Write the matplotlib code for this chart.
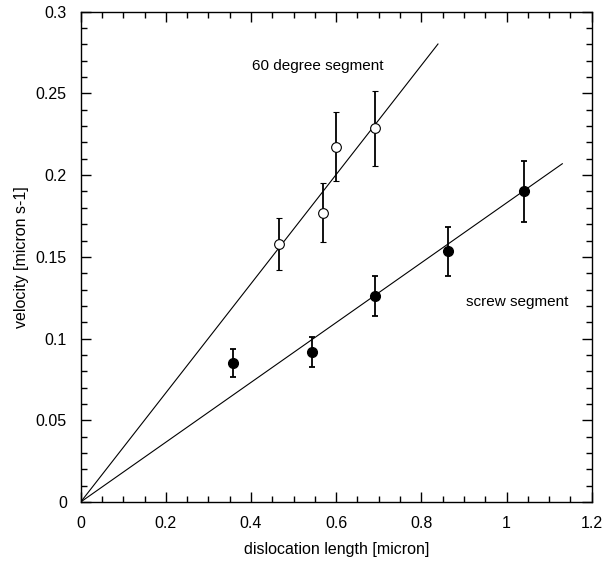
import matplotlib
matplotlib.use("Agg")
import matplotlib.pyplot as plt
import numpy as np
from matplotlib.ticker import MultipleLocator, FuncFormatter

plt.rcParams['font.family'] = ['Liberation Sans', 'DejaVu Sans']

# 60 degree segment (open circles)
deg60_x = [0.466, 0.570, 0.600, 0.691]
deg60_y = [0.158, 0.177, 0.2175, 0.2287]
deg60_err = [0.016, 0.018, 0.021, 0.023]
deg60_slope = 0.334
deg60_xmax = 0.839

# screw segment (filled circles)
screw_x = [0.358, 0.543, 0.691, 0.862, 1.040]
screw_y = [0.0849, 0.0918, 0.126, 0.1534, 0.190]
screw_err = [0.0085, 0.009, 0.012, 0.015, 0.0187]
screw_slope = 0.1830
screw_xmax = 1.131

fig = plt.figure(figsize=(6.03, 5.67), dpi=100)
ax = fig.add_axes([80.7/603, 1 - 502/567, 511/603, 490.3/567])

xs = np.array([0, deg60_xmax])
ax.plot(xs, deg60_slope * xs, color='black', lw=0.8)
xs2 = np.array([0, screw_xmax])
ax.plot(xs2, screw_slope * xs2, color='black', lw=0.8)

ax.errorbar(deg60_x, deg60_y, yerr=deg60_err, fmt='o', mfc='white', mec='black',
            ms=7, mew=0.8, ecolor='black', elinewidth=1.3, capsize=2.5, capthick=1.3)
ax.errorbar(screw_x, screw_y, yerr=screw_err, fmt='o', mfc='black', mec='black',
            ms=7, ecolor='black', elinewidth=1.3, capsize=2.5, capthick=1.3)

ax.text(0.402, 0.2665, "60 degree segment", fontsize=11, va='center', ha='left')
ax.text(0.905, 0.1225, "screw segment", fontsize=11, va='center', ha='left')

ax.set_xlim(0, 1.2)
ax.set_ylim(0, 0.3)
ax.xaxis.set_major_locator(MultipleLocator(0.2))
ax.xaxis.set_minor_locator(MultipleLocator(0.05))
ax.yaxis.set_major_locator(MultipleLocator(0.05))
ax.yaxis.set_minor_locator(MultipleLocator(0.01))

def fmt(v, pos):
    s = ('%.2f' % v).rstrip('0').rstrip('.')
    return s if s else '0'
ax.xaxis.set_major_formatter(FuncFormatter(fmt))
ax.yaxis.set_major_formatter(FuncFormatter(fmt))

ax.tick_params(which='both', direction='in', top=True, right=True, labelsize=11.5, width=1.0)
ax.tick_params(which='major', length=7, pad=10)
ax.tick_params(which='minor', length=4)
for s in ax.spines.values():
    s.set_linewidth(1.0)

ax.set_xlabel("dislocation length [micron]", fontsize=11.5, labelpad=8)
ax.set_ylabel("velocity [micron s-1]", fontsize=11.5, labelpad=5)

fig.savefig("out.png", dpi=100)
